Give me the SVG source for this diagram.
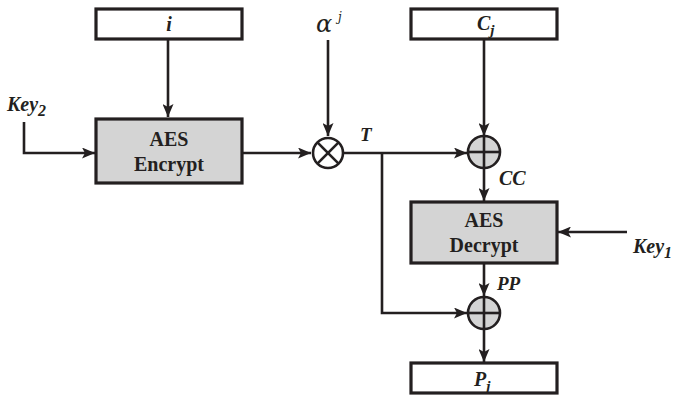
<svg xmlns="http://www.w3.org/2000/svg" width="675" height="407" viewBox="0 0 675 407">
<style>
.box{fill:#fff;stroke:#231f20;stroke-width:3.2}
.proc{fill:#d4d4d4;stroke:#231f20;stroke-width:3.2}
.op{stroke:#231f20;stroke-width:2.6}
.ln{fill:none;stroke:#231f20;stroke-width:2.6}
.t{font-family:"Liberation Serif",serif;font-weight:bold;fill:#231f20}
.it{font-family:"Liberation Serif",serif;font-weight:bold;font-style:italic;fill:#231f20}
.gr{font-family:"DejaVu Serif",serif;font-weight:normal;font-style:italic;fill:#231f20}
</style>
<defs>
<marker id="a" viewBox="0 0 13 11" refX="13" refY="5.5" markerWidth="13" markerHeight="11" markerUnits="userSpaceOnUse" orient="auto">
<path d="M0,0 L13,5.5 L0,11 L3,5.5 z" fill="#231f20"/>
</marker>
</defs>
<g id="connectors">
<line class="ln" x1="168" y1="40" x2="168" y2="117" marker-end="url(#a)"/>
<polyline class="ln" points="24,122 24,153 95,153" marker-end="url(#a)"/>
<line class="ln" x1="242" y1="153" x2="311" y2="153" marker-end="url(#a)"/>
<line class="ln" x1="328" y1="40" x2="328" y2="136" marker-end="url(#a)"/>
<line class="ln" x1="343" y1="153" x2="467" y2="153" marker-end="url(#a)"/>
<line class="ln" x1="484" y1="40" x2="484" y2="136" marker-end="url(#a)"/>
<line class="ln" x1="484" y1="169" x2="484" y2="201" marker-end="url(#a)"/>
<line class="ln" x1="627" y1="232" x2="558" y2="232" marker-end="url(#a)"/>
<line class="ln" x1="484" y1="263" x2="484" y2="296" marker-end="url(#a)"/>
<polyline class="ln" points="382,153 382,313 467,313" marker-end="url(#a)"/>
<line class="ln" x1="484" y1="329" x2="484" y2="362" marker-end="url(#a)"/>
</g>
<g id="box-i">
<rect class="box" x="96" y="9" width="146" height="30"/>
<text class="it" x="169" y="31" font-size="20" text-anchor="middle">i</text>
</g>
<g id="key2">
<text class="it" x="7" y="111" font-size="20">Key<tspan font-size="16" dy="5">2</tspan></text>
</g>
<g id="aes-encrypt">
<rect class="proc" x="96" y="119" width="146" height="64"/>
<text class="t" x="169" y="146" font-size="20" text-anchor="middle">AES</text>
<text class="t" x="169" y="171" font-size="20" text-anchor="middle">Encrypt</text>
</g>
<g id="alpha">
<text class="gr" x="316" y="32" font-size="24">α</text>
<text class="gr" x="338" y="21" font-size="12" font-family="Liberation Serif">j</text>
</g>
<g id="mult">
<circle class="op" cx="328" cy="153" r="15" fill="#fff"/>
<line class="op" x1="317.4" y1="142.4" x2="338.6" y2="163.6"/>
<line class="op" x1="338.6" y1="142.4" x2="317.4" y2="163.6"/>
</g>
<g id="label-T">
<text class="it" x="360" y="141" font-size="19">T</text>
</g>
<g id="box-cj">
<rect class="box" x="411" y="9" width="146" height="30"/>
<text class="it" x="477" y="30" font-size="20">C<tspan font-size="15" dy="5">j</tspan></text>
</g>
<g id="xor1">
<circle class="op" cx="484" cy="152" r="16" fill="#d4d4d4"/>
<line class="op" x1="468" y1="152" x2="500" y2="152"/>
<line class="op" x1="484" y1="136" x2="484" y2="168"/>
</g>
<g id="label-CC">
<text class="it" x="499" y="185" font-size="20">CC</text>
</g>
<g id="aes-decrypt">
<rect class="proc" x="411" y="202" width="146" height="61"/>
<text class="t" x="484" y="227" font-size="20" text-anchor="middle">AES</text>
<text class="t" x="484" y="252" font-size="20" text-anchor="middle">Decrypt</text>
</g>
<g id="key1">
<text class="it" x="633" y="253" font-size="20">Key<tspan font-size="16" dy="5">1</tspan></text>
</g>
<g id="label-PP">
<text class="it" x="497" y="290" font-size="19">PP</text>
</g>
<g id="xor2">
<circle class="op" cx="484" cy="313" r="16" fill="#d4d4d4"/>
<line class="op" x1="468" y1="313" x2="500" y2="313"/>
<line class="op" x1="484" y1="297" x2="484" y2="329"/>
</g>
<g id="box-pj">
<rect class="box" x="411" y="363" width="146" height="30"/>
<text class="it" x="474" y="386" font-size="20">P<tspan font-size="15" dy="5">j</tspan></text>
</g>
</svg>
